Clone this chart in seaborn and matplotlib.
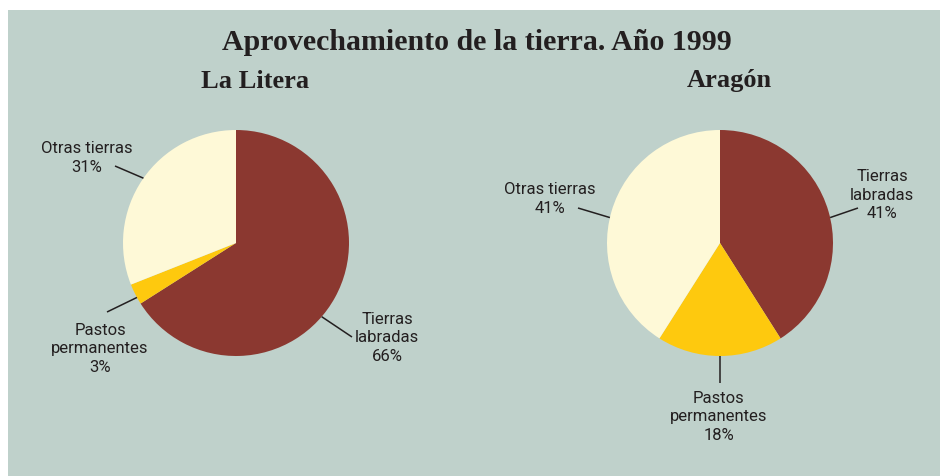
import numpy as np
import matplotlib
matplotlib.use("Agg")
import matplotlib.pyplot as plt
import seaborn as sns
from matplotlib.patches import Rectangle

sns.set_theme(style="white")
plt.rcParams["font.family"] = ["Roboto", "DejaVu Sans"]

# --- data -------------------------------------------------------------
categories = ["Tierras labradas", "Pastos permanentes", "Otras tierras"]
label_text = ["Tierras\nlabradas", "Pastos\npermanentes", "Otras tierras"]
litera_values = [66, 3, 31]
aragon_values = [41, 18, 41]
chart_title = "Aprovechamiento de la tierra. Año 1999"
region_titles = ["La Litera", "Aragón"]

colors = ["#8b3830", "#fec90e", "#fef9d7"]
panel_color = "#bfd1cb"
text_color = "#231f20"

W, H = 940, 476
fig = plt.figure(figsize=(W / 100, H / 100), dpi=100, facecolor="white")
ax = fig.add_axes([0, 0, 1, 1])


def Y(y):
    """Convert a top-down pixel row to the axis' bottom-up coordinate."""
    return H - y


ax.add_patch(Rectangle((8, 0), W - 8, H - 10, facecolor=panel_color,
                       edgecolor="none", zorder=0))

radius = 113
centers = [(236, 243), (720, 243)]
title_x = [255, 729]

# label layout: (leader angle on the rim, leader outer end, text centre)
layouts = [
    [(-40.7, (352, 337), (387, 338)),
     (208.8, (107, 312), (100, 349)),
     (145.0, (115, 166), (87, 158))],
    [(13.0, (858, 208), (882, 195)),
     (-90.0, (720, 383), (719, 417)),
     (167.0, (578, 208), (550, 199))],
]

for (cx, cy), vals, layout, rtitle, tx0 in zip(
        centers, [litera_values, aragon_values], layouts, region_titles, title_x):
    ax.pie(vals, colors=colors, startangle=90, counterclock=False,
           center=(cx, Y(cy)), radius=radius, frame=True,
           wedgeprops=dict(linewidth=0))
    for (ang, (ox, oy), (tx, ty)), txt, v in zip(layout, label_text, vals):
        ex = cx + radius * np.cos(np.radians(ang))
        ey = cy - radius * np.sin(np.radians(ang))
        ax.plot([ex, ox], [Y(ey), Y(oy)], color=text_color, lw=1.1,
                solid_capstyle="butt", zorder=3)
        ax.text(tx, Y(ty), f"{txt}\n{v}%", ha="center", va="center",
                fontsize=12, color=text_color, linespacing=1.3, zorder=4)
    ax.text(tx0, Y(81), rtitle, ha="center", va="center", fontsize=19,
            fontweight="bold", family="Liberation Serif", color=text_color)

ax.set_xlim(0, W)
ax.set_ylim(0, H)
ax.set_aspect("equal")
ax.axis("off")

ax.text(477, Y(43), chart_title, ha="center", va="center", fontsize=21.5,
        fontweight="bold", family="Liberation Serif", color=text_color)

fig.savefig("out.png", dpi=100, facecolor="white")
